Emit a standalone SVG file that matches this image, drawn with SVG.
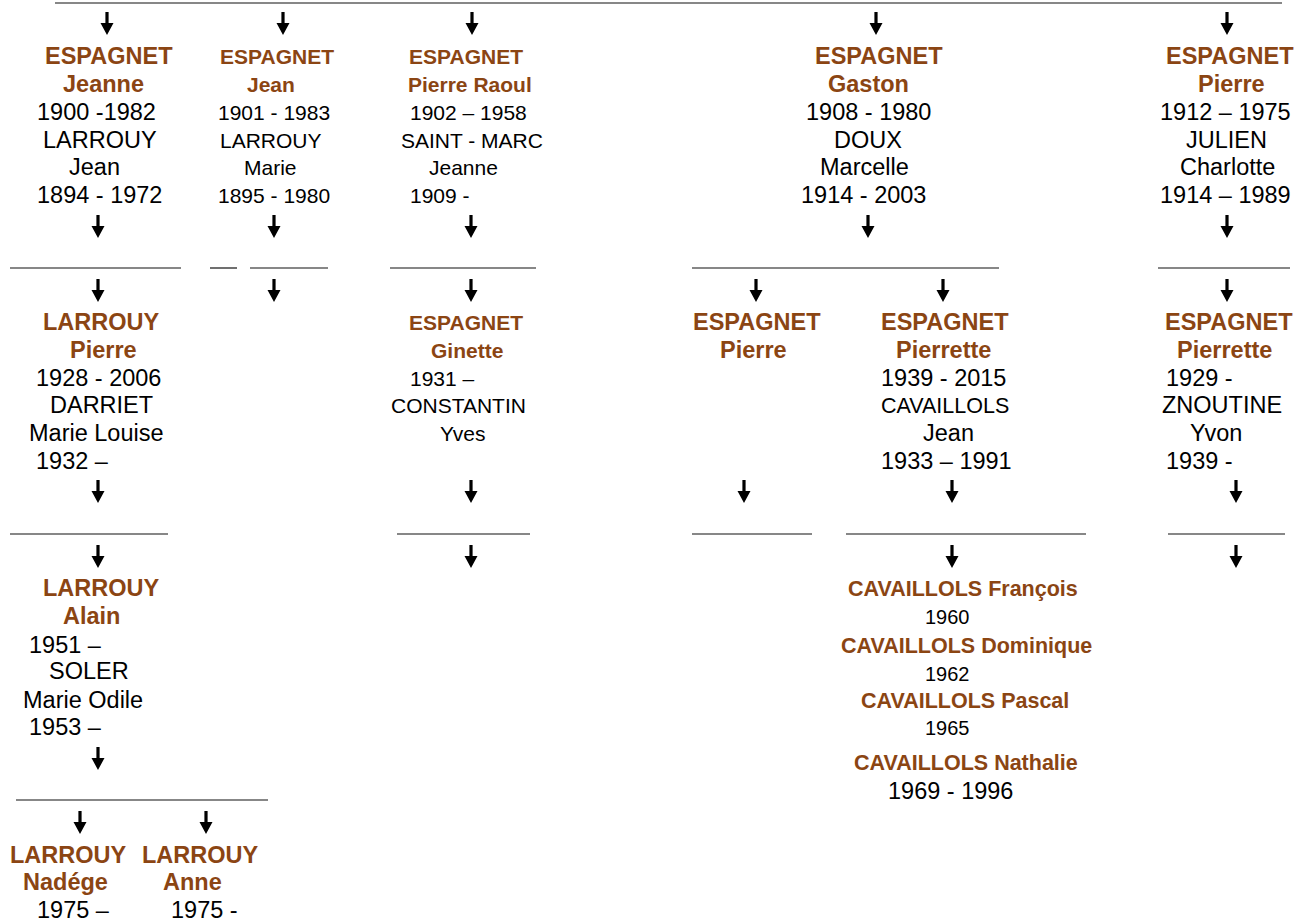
<svg xmlns="http://www.w3.org/2000/svg" xmlns:xlink="http://www.w3.org/1999/xlink" width="1311" height="919" viewBox="0 0 1311 919">
<style>
text{font-family:"Liberation Sans",Arial,sans-serif;}
.b{font-weight:bold;fill:#8B4513;}
.r{fill:#000;}
.L{font-size:23.5px;}
.S{font-size:21px;}
.M{font-size:21.5px;}
.T{font-size:20px;}
.ln{stroke:#111;stroke-width:1.2;}
</style>
<defs>
<path id="arrow" d="M-1.6,0 H1.6 V11 H6.5 L0,23 L-6.5,11 H-1.6 Z" fill="#000"/>
</defs>
<rect width="1311" height="919" fill="#fff"/>
<g id="connectors">
<line class="ln" x1="55" y1="3" x2="1282" y2="3"/>
<line class="ln" x1="10" y1="268" x2="181" y2="268"/>
<line class="ln" x1="210" y1="268" x2="237" y2="268"/>
<line class="ln" x1="250" y1="268" x2="328" y2="268"/>
<line class="ln" x1="390" y1="268" x2="536" y2="268"/>
<line class="ln" x1="692" y1="268" x2="999" y2="268"/>
<line class="ln" x1="1158" y1="268" x2="1290" y2="268"/>
<line class="ln" x1="10" y1="534" x2="168" y2="534"/>
<line class="ln" x1="397" y1="534" x2="530" y2="534"/>
<line class="ln" x1="692" y1="534" x2="812" y2="534"/>
<line class="ln" x1="846" y1="534" x2="1086" y2="534"/>
<line class="ln" x1="1168" y1="534" x2="1285" y2="534"/>
<line class="ln" x1="16" y1="800" x2="268" y2="800"/>
<use xlink:href="#arrow" x="107" y="12"/>
<use xlink:href="#arrow" x="283" y="12"/>
<use xlink:href="#arrow" x="472" y="12"/>
<use xlink:href="#arrow" x="876" y="12"/>
<use xlink:href="#arrow" x="1227" y="12"/>
<use xlink:href="#arrow" x="98" y="215"/>
<use xlink:href="#arrow" x="274" y="215"/>
<use xlink:href="#arrow" x="471" y="215"/>
<use xlink:href="#arrow" x="868" y="215"/>
<use xlink:href="#arrow" x="1227" y="215"/>
<use xlink:href="#arrow" x="98" y="279"/>
<use xlink:href="#arrow" x="274" y="279"/>
<use xlink:href="#arrow" x="471" y="279"/>
<use xlink:href="#arrow" x="756" y="279"/>
<use xlink:href="#arrow" x="943" y="279"/>
<use xlink:href="#arrow" x="1227" y="279"/>
<use xlink:href="#arrow" x="98" y="480"/>
<use xlink:href="#arrow" x="471" y="480"/>
<use xlink:href="#arrow" x="744" y="480"/>
<use xlink:href="#arrow" x="952" y="480"/>
<use xlink:href="#arrow" x="1236" y="480"/>
<use xlink:href="#arrow" x="98" y="545"/>
<use xlink:href="#arrow" x="471" y="545"/>
<use xlink:href="#arrow" x="952" y="545"/>
<use xlink:href="#arrow" x="1236" y="545"/>
<use xlink:href="#arrow" x="98" y="747"/>
<use xlink:href="#arrow" x="80" y="811"/>
<use xlink:href="#arrow" x="206" y="811"/>
</g>
<g id="jeanne">
<text class="b L" x="45" y="64">ESPAGNET</text>
<text class="b L" x="63" y="92">Jeanne</text>
<text class="r L" x="37" y="120">1900 -1982</text>
<text class="r L" x="43" y="148">LARROUY</text>
<text class="r L" x="69" y="175">Jean</text>
<text class="r L" x="37" y="203">1894 - 1972</text>
</g>
<g id="jean">
<text class="b S" x="220" y="64">ESPAGNET</text>
<text class="b S" x="247" y="92">Jean</text>
<text class="r S" x="218" y="120">1901 - 1983</text>
<text class="r S" x="220" y="148">LARROUY</text>
<text class="r S" x="244" y="175">Marie</text>
<text class="r S" x="218" y="203">1895 - 1980</text>
</g>
<g id="pierre-raoul">
<text class="b S" x="409" y="64">ESPAGNET</text>
<text class="b S" x="408" y="92">Pierre Raoul</text>
<text class="r S" x="410" y="120">1902 – 1958</text>
<text class="r S" x="401" y="148">SAINT - MARC</text>
<text class="r S" x="429" y="175">Jeanne</text>
<text class="r S" x="410" y="203">1909 -</text>
</g>
<g id="gaston">
<text class="b L" x="815" y="64">ESPAGNET</text>
<text class="b L" x="828" y="92">Gaston</text>
<text class="r L" x="806" y="120">1908 - 1980</text>
<text class="r L" x="834" y="148">DOUX</text>
<text class="r L" x="820" y="175">Marcelle</text>
<text class="r L" x="801" y="203">1914 - 2003</text>
</g>
<g id="pierre">
<text class="b L" x="1166" y="64">ESPAGNET</text>
<text class="b L" x="1198" y="92">Pierre</text>
<text class="r L" x="1160" y="120">1912 – 1975</text>
<text class="r L" x="1186" y="148">JULIEN</text>
<text class="r L" x="1180" y="175">Charlotte</text>
<text class="r L" x="1160" y="203">1914 – 1989</text>
</g>
<g id="larrouy-pierre">
<text class="b L" x="43" y="330">LARROUY</text>
<text class="b L" x="70" y="358">Pierre</text>
<text class="r L" x="36" y="386">1928 - 2006</text>
<text class="r L" x="50" y="413">DARRIET</text>
<text class="r L" x="29" y="441">Marie Louise</text>
<text class="r L" x="36" y="469">1932 –</text>
</g>
<g id="ginette">
<text class="b S" x="409" y="330">ESPAGNET</text>
<text class="b S" x="431" y="358">Ginette</text>
<text class="r S" x="410" y="386">1931 –</text>
<text class="r S" x="391" y="413">CONSTANTIN</text>
<text class="r S" x="440" y="441">Yves</text>
</g>
<g id="pierre-g">
<text class="b L" x="693" y="330">ESPAGNET</text>
<text class="b L" x="720" y="358">Pierre</text>
</g>
<g id="pierrette-g">
<text class="b L" x="881" y="330">ESPAGNET</text>
<text class="b L" x="896" y="358">Pierrette</text>
<text class="r L" x="881" y="386">1939 - 2015</text>
<text class="r M" x="881" y="413">CAVAILLOLS</text>
<text class="r L" x="923" y="441">Jean</text>
<text class="r L" x="881" y="469">1933 – 1991</text>
</g>
<g id="pierrette-p">
<text class="b L" x="1165" y="330">ESPAGNET</text>
<text class="b L" x="1177" y="358">Pierrette</text>
<text class="r L" x="1166" y="386">1929 -</text>
<text class="r L" x="1162" y="413">ZNOUTINE</text>
<text class="r L" x="1190" y="441">Yvon</text>
<text class="r L" x="1166" y="469">1939 -</text>
</g>
<g id="alain">
<text class="b L" x="43" y="596">LARROUY</text>
<text class="b L" x="63" y="624">Alain</text>
<text class="r L" x="29" y="653">1951 –</text>
<text class="r L" x="49" y="679">SOLER</text>
<text class="r L" x="23" y="708">Marie Odile</text>
<text class="r L" x="29" y="735">1953 –</text>
</g>
<g id="nadege">
<text class="b L" x="10" y="863">LARROUY</text>
<text class="b L" x="23" y="890">Nadége</text>
<text class="r L" x="37" y="918">1975 –</text>
</g>
<g id="anne">
<text class="b L" x="142" y="863">LARROUY</text>
<text class="b L" x="163" y="890">Anne</text>
<text class="r L" x="171" y="918">1975 -</text>
</g>
<g id="cavaillols">
<text class="b M" x="848" y="596">CAVAILLOLS François</text>
<text class="r T" x="925" y="624">1960</text>
<text class="b M" x="841" y="653">CAVAILLOLS Dominique</text>
<text class="r T" x="925" y="681">1962</text>
<text class="b M" x="861" y="708">CAVAILLOLS Pascal</text>
<text class="r T" x="925" y="735">1965</text>
<text class="b M" x="854" y="770">CAVAILLOLS Nathalie</text>
<text class="r L" x="888" y="799">1969 - 1996</text>
</g>
</svg>
